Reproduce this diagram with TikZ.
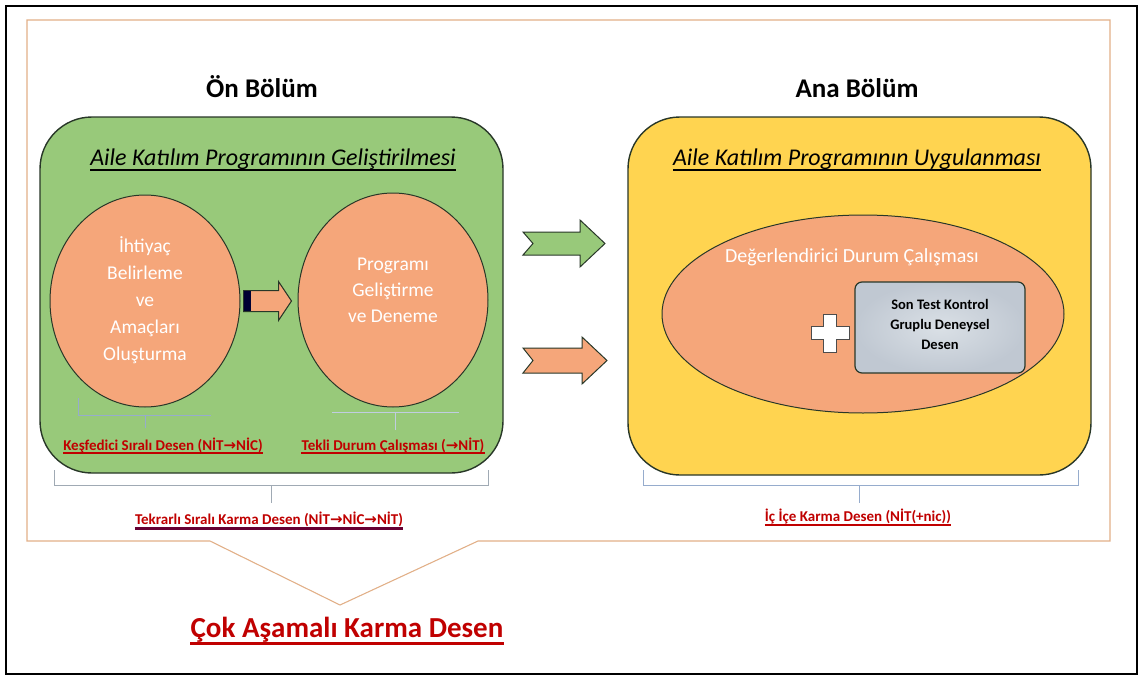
\documentclass[tikz,border=0pt]{standalone}
\usepackage{fontspec}
\setmainfont{Carlito}
\newfontfamily\arrowfont{DejaVu Sans}
\newcommand{\myarrow}{{\arrowfont\bfseries →}}
\usetikzlibrary{shapes.geometric,calc}
\definecolor{gfill}{RGB}{152,201,122}
\definecolor{ofill}{RGB}{245,166,122}
\definecolor{yfill}{RGB}{255,212,80}
\definecolor{bfill}{RGB}{218,224,230}
\definecolor{bout}{RGB}{192,200,210}
\definecolor{redt}{RGB}{192,0,0}
\definecolor{framec}{RGB}{226,176,136}
\definecolor{edgec}{RGB}{40,55,40}
\definecolor{brk}{RGB}{150,172,205}
\definecolor{brkg}{RGB}{160,170,180}
\tikzset{
  panel/.style={draw=edgec, line width=1.4pt, rounded corners=52pt, inner sep=0pt},
  oval/.style={ellipse, draw=edgec, line width=1pt, fill=ofill, inner sep=0pt},
  whitetxt/.style={text=white, align=center, inner sep=0pt, font=\fontsize{19.5}{27}\selectfont},
  redlbl/.style={text=redt, inner sep=0pt, anchor=base, font=\bfseries\fontsize{15}{17}\selectfont},
  paneltitle/.style={inner sep=0pt, anchor=base, font=\itshape\fontsize{24}{27}\selectfont},
  headtitle/.style={inner sep=0pt, anchor=base, font=\bfseries\fontsize{27}{30}\selectfont},
  brace/.style={line width=1pt},
  blockarrow/.style={draw=edgec, line width=1pt, line join=miter},
}
\begin{document}
\begin{tikzpicture}[x=1pt,y=-1pt]
\useasboundingbox (0,0) rectangle (1141,677);
\fill[white] (0,0) rectangle (1141,677);
% outer frame
\draw[black, line width=1.6pt] (6,6) rectangle (1137,674);
% inner frame with V
\draw[framec, line width=1.1pt] (210,541) -- (340,605) -- (478,541) -- (1110,541) -- (1110,20) -- (27,20) -- (27,541) -- cycle;
\fill[white] (211,540.2) -- (340,603.8) -- (477,540.2) -- cycle;

% headings
\node[headtitle] (h1) at (262,97) {Ön Bölüm};
\node[headtitle] (h2) at (857,97) {Ana Bölüm};

% panels
\node[panel, fill=gfill, minimum width=463pt, minimum height=356pt] (gbox) at (271.5,295) {};
\node[panel, fill=yfill, minimum width=463pt, minimum height=358pt] (ybox) at (859.5,296) {};

% panel titles
\node[paneltitle] (t1) at (273,165) {Aile Katılım Programının Geliştirilmesi};
\draw[black, line width=1.3pt] ([yshift=-5pt]t1.base west) -- ([yshift=-5pt]t1.base east);
\node[paneltitle] (t2) at (857,165) {Aile Katılım Programının Uygulanması};
\draw[black, line width=1.3pt] ([yshift=-5pt]t2.base west) -- ([yshift=-5pt]t2.base east);

% ellipses
\node[oval, minimum width=190pt, minimum height=212pt] (e1) at (145,301) {};
\node[oval, minimum width=190pt, minimum height=214pt] (e2) at (393,300) {};
\node[whitetxt] (e1t) at (145,300) {İhtiyaç\\Belirleme\\ve\\Amaçları\\Oluşturma};
\node[whitetxt, font=\fontsize{19.5}{26}\selectfont] (e2t) at (393,290) {Programı\\Geliştirme\\ve Deneme};

% small arrow between ellipses
\coordinate (sa) at ($(e1.east)+(3,0)$);
\draw[blockarrow, fill=ofill] (sa) ++(0,-10.5) -- ++(35,0) -- ++(0,-9) -- ++(13,19.5) -- ++(-13,19.5) -- ++(0,-9) -- ++(-35,0) -- cycle;
\fill[black!80!blue] ($(sa)+(0,-10)$) rectangle ($(sa)+(7,10)$);

% brackets under ellipses
\draw[brk, brace] (78,398) -- (78,415) -- (211,415);
\draw[brk, brace] (145,415) -- (145,428);
\draw[brk!60, brace] (332,412) -- (459,412);
\draw[brk!60, brace] (395,412) -- (395,430);

% red labels
\node[redlbl] (l1) at (163,450) {Keşfedici Sıralı Desen (NİT\myarrow NİC)};
\draw[redt, line width=1.2pt] ([yshift=-3pt]l1.base west) -- ([yshift=-3pt]l1.base east);
\node[redlbl] (l2) at (393,450) {Tekli Durum Çalışması (\myarrow NİT)};
\draw[redt, line width=1.2pt] ([yshift=-3pt]l2.base west) -- ([yshift=-3pt]l2.base east);

% big bracket under green panel
\draw[brkg, brace] (54,470) -- (54,485) -- (488,485) -- (488,470);
\draw[brkg, brace] (271,485) -- (271,503);
\node[redlbl] (l3) at (269,524) {Tekrarlı Sıralı Karma Desen (NİT\myarrow NİC\myarrow NİT)};
\draw[red!50!black!80!blue, line width=2.6pt] ([yshift=-4.5pt]l3.base west) -- ([yshift=-4.5pt]l3.base east);

% big arrows between panels
\coordinate (ga) at (523,243.5);
\draw[blockarrow, fill=gfill] (ga) ++(0,-11.5) -- ++(57,0) -- ++(0,-12) -- ++(25,23.5) -- ++(-25,23.5) -- ++(0,-12) -- ++(-57,0) -- ++(10,-11.5) -- cycle;
\coordinate (oa) at (523,360.5);
\draw[blockarrow, fill=ofill] (oa) ++(0,-12.5) -- ++(59,0) -- ++(0,-11) -- ++(25,23.5) -- ++(-25,23.5) -- ++(0,-11) -- ++(-59,0) -- ++(10,-12.5) -- cycle;

% right panel content
\node[oval, minimum width=402pt, minimum height=198pt] (e3) at (863,314) {};
\node[whitetxt, font=\fontsize{20}{24}\selectfont] (e3t) at (852,257) {Değerlendirici Durum Çalışması};
\node[draw=edgec, line width=1.2pt, rounded corners=7pt, inner color=bfill, outer color=bout, minimum width=170pt, minimum height=91pt, inner sep=0pt] (sb) at (940,327.5) {};
\node[inner sep=0pt, align=center, font=\bfseries\fontsize{14.5}{20}\selectfont] (sbt) at (940,324) {Son Test Kontrol\\Gruplu Deneysel\\Desen};
\coordinate (pl) at (830,333);
\draw[fill=white, draw=black!70, line width=1pt] (pl) ++(-6.5,-19) -- ++(13,0) -- ++(0,12.5) -- ++(12.5,0) -- ++(0,13) -- ++(-12.5,0) -- ++(0,12.5) -- ++(-13,0) -- ++(0,-12.5) -- ++(-12.5,0) -- ++(0,-13) -- ++(12.5,0) -- cycle;

% right bracket
\draw[brk, brace] (643,470) -- (643,485) -- (1078,485) -- (1078,470);
\draw[brk, brace] (859,485) -- (859,503);
\node[redlbl] (l4) at (858,521) {İç İçe Karma Desen (NİT(+nic))};
\draw[redt, line width=2pt] ([yshift=-4pt]l4.base west) -- ([yshift=-4pt]l4.base east);

% bottom title
\node[text=redt, inner sep=0pt, font=\bfseries\fontsize{29}{32}\selectfont] (big) at (347,630) {Çok Aşamalı Karma Desen};
\draw[redt, line width=2.6pt] ([yshift=-6pt]big.base west) -- ([yshift=-6pt]big.base east);
\end{tikzpicture}
\end{document}
